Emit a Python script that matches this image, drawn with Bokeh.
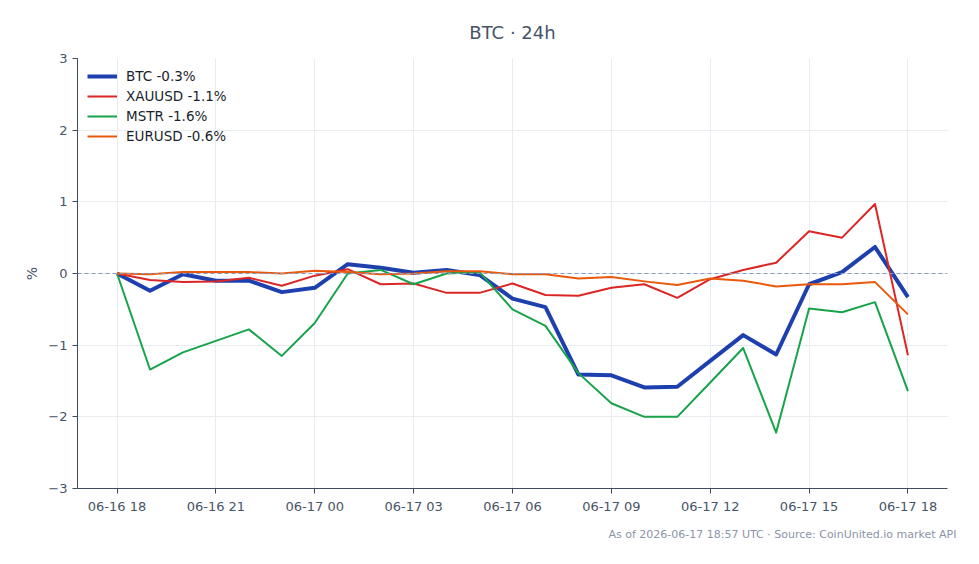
from bokeh.plotting import figure
from bokeh.models import Span, Legend, LegendItem, FixedTicker, Title, Range1d
from bokeh.embed import file_html
from bokeh.resources import INLINE

# Hourly offsets from 06-16 18:00 UTC
hours = list(range(25))

tick_hours = [0, 3, 6, 9, 12, 15, 18, 21, 24]
tick_labels = ["06-16 18", "06-16 21", "06-17 00", "06-17 03", "06-17 06",
               "06-17 09", "06-17 12", "06-17 15", "06-17 18"]
y_ticks = [-3, -2, -1, 0, 1, 2, 3]
y_labels = ["\u22123", "\u22122", "\u22121", "0", "1", "2", "3"]

# % change vs. start of window
btc = [0.0, -0.24, -0.01, -0.10, -0.10, -0.26, -0.20, 0.13, 0.08, 0.01, 0.05, -0.02,
       -0.35, -0.47, -1.41, -1.42, -1.59, -1.58, -1.22, -0.86, -1.13, -0.15, 0.02, 0.37, -0.33]
xauusd = [0.0, -0.09, -0.12, -0.11, -0.06, -0.17, -0.03, 0.06, -0.15, -0.14, -0.27, -0.27,
          -0.14, -0.30, -0.31, -0.20, -0.15, -0.34, -0.08, 0.05, 0.15, 0.59, 0.50, 0.97, -1.14]
mstr = [0.0, -1.34, -1.10, -0.94, -0.78, -1.15, -0.69, 0.0, 0.05, -0.15, 0.0, 0.02,
        -0.50, -0.73, -1.39, -1.81, -2.00, -2.00, -1.52, -1.04, -2.22, -0.49, -0.54, -0.40, -1.64]
eurusd = [0.0, -0.01, 0.02, 0.02, 0.02, 0.0, 0.04, 0.02, -0.01, 0.0, 0.03, 0.03,
          -0.01, -0.01, -0.07, -0.05, -0.11, -0.16, -0.07, -0.10, -0.18, -0.15, -0.15, -0.12, -0.57]

series = [
    ("BTC -0.3%", btc, "#1e40af", 4),
    ("XAUUSD -1.1%", xauusd, "#dc2626", 2),
    ("MSTR -1.6%", mstr, "#16a34a", 2),
    ("EURUSD -0.6%", eurusd, "#ea580c", 2),
]

FONT = "DejaVu Sans"
TEXT = "#475467"
AXIS = "#3f4b5e"

p = figure(width=979, height=564, output_backend="svg", toolbar_location=None,
           x_range=Range1d(-1.2, 25.2), y_range=Range1d(-3, 3),
           min_border_left=77, min_border_right=32, min_border_top=58, min_border_bottom=76,
           background_fill_color="white", border_fill_color="white", outline_line_color=None)

p.title.text = "BTC \u00b7 24h"
p.title.align = "center"
p.title.text_font = FONT
p.title.text_font_size = "18px"
p.title.text_font_style = "normal"
p.title.text_color = TEXT
p.title.standoff = 31

# grid
p.xgrid.grid_line_color = "#e8ebf0"
p.ygrid.grid_line_color = "#e8ebf0"

# axes
p.xaxis.ticker = FixedTicker(ticks=tick_hours)
p.xaxis.major_label_overrides = dict(zip(tick_hours, tick_labels))
p.yaxis.ticker = FixedTicker(ticks=y_ticks)
p.yaxis.major_label_overrides = dict(zip(y_ticks, y_labels))
for ax in (p.xaxis[0], p.yaxis[0]):
    ax.axis_line_color = AXIS
    ax.major_tick_line_color = AXIS
    ax.major_tick_out = 5
    ax.major_tick_in = 0
    ax.minor_tick_line_color = None
    ax.major_label_text_font = FONT
    ax.major_label_text_font_size = "13px"
    ax.major_label_text_color = TEXT
p.yaxis.axis_label = "%"
p.yaxis.axis_label_text_font = FONT
p.yaxis.axis_label_text_font_size = "14px"
p.yaxis.axis_label_text_font_style = "normal"
p.yaxis.axis_label_text_color = TEXT

# zero reference
p.add_layout(Span(location=0, dimension="width", line_color="#8a9cc0",
                  line_width=1, line_dash="4 3"))

items = []
for name, vals, color, w in series:
    r = p.line(hours, vals, line_color=color, line_width=w, line_join="round")
    items.append(LegendItem(label=name, renderers=[r]))

legend = Legend(items=items, location="top_left", background_fill_alpha=0,
                border_line_color=None, label_text_font=FONT, label_text_font_size="13.5px",
                label_text_color="#1a1f2b", glyph_width=30, glyph_height=14,
                label_height=14, label_standoff=9, spacing=4, padding=4, margin=10)
p.add_layout(legend)

footer = Title(text="As of 2026-06-17 18:57 UTC \u00b7 Source: CoinUnited.io market API",
               align="right", text_font=FONT, text_font_size="11px",
               text_font_style="normal", text_color="#8a94a6", standoff=18, offset=-9)
p.add_layout(footer, "below")

open("out.html", "w").write(file_html(p, INLINE))
